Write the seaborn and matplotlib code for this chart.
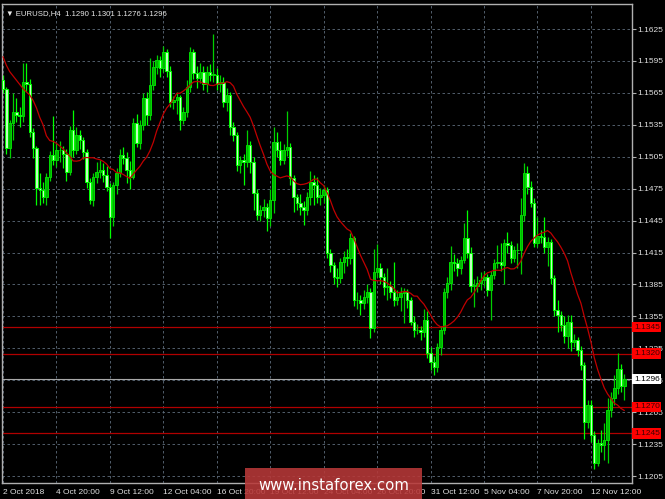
import numpy as np
import pandas as pd
import matplotlib
matplotlib.use('Agg')
from matplotlib import pyplot as plt
from matplotlib.patches import Rectangle
from matplotlib.transforms import blended_transform_factory
import seaborn as sns


# EURUSD H4, 2 Oct 2018 .. 13 Nov 2018
first_open = 1.1577
closes = [1.1569, 1.1513, 1.1537, 1.1547, 1.1544, 1.1543, 1.1575, 1.1573, 1.1528, 1.1513,
          1.1476, 1.1474, 1.1467, 1.1486, 1.1507, 1.1502, 1.1511, 1.1511, 1.1508, 1.1491,
          1.1530, 1.1511, 1.1525, 1.1521, 1.1509, 1.1481, 1.1464, 1.1486, 1.1491, 1.1493,
          1.1488, 1.1477, 1.1448, 1.1478, 1.1490, 1.1507, 1.1504, 1.1493, 1.1486, 1.1537,
          1.1518, 1.1535, 1.1560, 1.1544, 1.1572, 1.1589, 1.1596, 1.1588, 1.1603, 1.1586,
          1.1556, 1.1558, 1.1561, 1.1540, 1.1547, 1.1571, 1.1603, 1.1584, 1.1579, 1.1585,
          1.1573, 1.1585, 1.1582, 1.1582, 1.1573, 1.1575, 1.1556, 1.1563, 1.1533, 1.1525,
          1.1497, 1.1502, 1.1500, 1.1516, 1.1500, 1.1471, 1.1450, 1.1455, 1.1458, 1.1447,
          1.1464, 1.1519, 1.1511, 1.1502, 1.1511, 1.1514, 1.1485, 1.1467, 1.1462, 1.1458,
          1.1455, 1.1467, 1.1481, 1.1478, 1.1467, 1.1469, 1.1474, 1.1415, 1.1403, 1.1392,
          1.1391, 1.1406, 1.1411, 1.1410, 1.1429, 1.1370, 1.1370, 1.1368, 1.1373, 1.1378,
          1.1344, 1.1397, 1.1400, 1.1392, 1.1383, 1.1384, 1.1378, 1.1370, 1.1373, 1.1377,
          1.1378, 1.1370, 1.1350, 1.1342, 1.1342, 1.1340, 1.1352, 1.1321, 1.1312, 1.1307,
          1.1326, 1.1342, 1.1378, 1.1386, 1.1406, 1.1405, 1.1400, 1.1408, 1.1429, 1.1415,
          1.1384, 1.1384, 1.1386, 1.1389, 1.1392, 1.1380, 1.1394, 1.1405, 1.1406, 1.1403,
          1.1424, 1.1422, 1.1410, 1.1417, 1.1417, 1.1450, 1.1490, 1.1477, 1.1462, 1.1424,
          1.1431, 1.1430, 1.1420, 1.1425, 1.1391, 1.1361, 1.1356, 1.1347, 1.1337, 1.1350,
          1.1331, 1.1333, 1.1323, 1.1309, 1.1256, 1.1272, 1.1244, 1.1217, 1.1236, 1.1234,
          1.1239, 1.1267, 1.1278, 1.1288, 1.1306, 1.1290, 1.1296]
highs = [1.1582, 1.1571, 1.1540, 1.1565, 1.1560, 1.1552, 1.1593, 1.1593, 1.1578, 1.1532,
         1.1515, 1.1490, 1.1481, 1.1490, 1.1510, 1.1543, 1.1518, 1.1520, 1.1515, 1.1512,
         1.1534, 1.1549, 1.1533, 1.1530, 1.1524, 1.1512, 1.1485, 1.1490, 1.1500, 1.1502,
         1.1499, 1.1496, 1.1480, 1.1481, 1.1494, 1.1512, 1.1514, 1.1509, 1.1501, 1.1541,
         1.1545, 1.1540, 1.1565, 1.1566, 1.1598, 1.1595, 1.1601, 1.1600, 1.1609, 1.1606,
         1.1590, 1.1562, 1.1566, 1.1563, 1.1552, 1.1577, 1.1608, 1.1606, 1.1590, 1.1593,
         1.1590, 1.1590, 1.1592, 1.1620, 1.1588, 1.1582, 1.1580, 1.1570, 1.1566, 1.1538,
         1.1528, 1.1506, 1.1508, 1.1530, 1.1520, 1.1505, 1.1475, 1.1460, 1.1465, 1.1462,
         1.1475, 1.1533, 1.1528, 1.1520, 1.1517, 1.1548, 1.1518, 1.1488, 1.1470, 1.1470,
         1.1463, 1.1472, 1.1492, 1.1488, 1.1486, 1.1476, 1.1478, 1.1477, 1.1418, 1.1406,
         1.1400, 1.1410, 1.1416, 1.1418, 1.1433, 1.1431, 1.1378, 1.1375, 1.1380, 1.1385,
         1.1382, 1.1418, 1.1423, 1.1405, 1.1396, 1.1400, 1.1388, 1.1406, 1.1380, 1.1383,
         1.1382, 1.1381, 1.1373, 1.1355, 1.1348, 1.1346, 1.1362, 1.1360, 1.1326, 1.1318,
         1.1330, 1.1346, 1.1382, 1.1392, 1.1421, 1.1414, 1.1410, 1.1412, 1.1443, 1.1455,
         1.1420, 1.1390, 1.1393, 1.1397, 1.1398, 1.1395, 1.1398, 1.1409, 1.1422, 1.1424,
         1.1428, 1.1434, 1.1426, 1.1421, 1.1424, 1.1466, 1.1499, 1.1496, 1.1482, 1.1466,
         1.1448, 1.1436, 1.1448, 1.1430, 1.1428, 1.1394, 1.1370, 1.1360, 1.1355, 1.1356,
         1.1356, 1.1338, 1.1336, 1.1327, 1.1312, 1.1276, 1.1276, 1.1247, 1.1240, 1.1248,
         1.1255, 1.1278, 1.1284, 1.1300, 1.1321, 1.1310, 1.1301]
lows = [1.1565, 1.1508, 1.1504, 1.1521, 1.1538, 1.1533, 1.1538, 1.1566, 1.1524, 1.1504,
        1.1460, 1.1460, 1.1462, 1.1460, 1.1482, 1.1497, 1.1495, 1.1500, 1.1494, 1.1482,
        1.1488, 1.1505, 1.1508, 1.1512, 1.1503, 1.1476, 1.1461, 1.1459, 1.1480, 1.1485,
        1.1481, 1.1473, 1.1429, 1.1440, 1.1470, 1.1486, 1.1498, 1.1480, 1.1475, 1.1484,
        1.1514, 1.1512, 1.1530, 1.1535, 1.1540, 1.1568, 1.1583, 1.1580, 1.1585, 1.1580,
        1.1552, 1.1550, 1.1545, 1.1530, 1.1536, 1.1542, 1.1566, 1.1578, 1.1570, 1.1574,
        1.1568, 1.1566, 1.1576, 1.1575, 1.1568, 1.1566, 1.1552, 1.1548, 1.1525, 1.1520,
        1.1492, 1.1490, 1.1478, 1.1495, 1.1490, 1.1455, 1.1446, 1.1445, 1.1448, 1.1435,
        1.1440, 1.1452, 1.1505, 1.1497, 1.1498, 1.1506, 1.1478, 1.1453, 1.1455, 1.1450,
        1.1441, 1.1450, 1.1460, 1.1460, 1.1462, 1.1460, 1.1462, 1.1410, 1.1397, 1.1385,
        1.1383, 1.1386, 1.1396, 1.1402, 1.1404, 1.1365, 1.1362, 1.1356, 1.1362, 1.1368,
        1.1335, 1.1340, 1.1392, 1.1385, 1.1375, 1.1370, 1.1372, 1.1365, 1.1366, 1.1360,
        1.1349, 1.1363, 1.1347, 1.1336, 1.1338, 1.1333, 1.1336, 1.1316, 1.1305, 1.1300,
        1.1303, 1.1319, 1.1338, 1.1372, 1.1380, 1.1398, 1.1393, 1.1395, 1.1405, 1.1410,
        1.1378, 1.1364, 1.1378, 1.1380, 1.1384, 1.1374, 1.1352, 1.1390, 1.1400, 1.1398,
        1.1385, 1.1415, 1.1405, 1.1406, 1.1400, 1.1395, 1.1445, 1.1470, 1.1458, 1.1420,
        1.1420, 1.1424, 1.1415, 1.1402, 1.1385, 1.1355, 1.1340, 1.1341, 1.1330, 1.1325,
        1.1322, 1.1326, 1.1318, 1.1305, 1.1240, 1.1250, 1.1237, 1.1212, 1.1214, 1.1228,
        1.1220, 1.1217, 1.1260, 1.1272, 1.1282, 1.1284, 1.1276]

# moving average before its 14-bar window fills
ma_head = [1.1599, 1.1591, 1.1585, 1.1581, 1.1577, 1.1573, 1.1569, 1.1566, 1.1563,
           1.1558, 1.1551, 1.1542, 1.1535]
ma_period = 14

date_labels = ['2 Oct 2018', '4 Oct 20:00', '9 Oct 12:00', '12 Oct 04:00', '16 Oct 20:00',
               '19 Oct 12:00', '24 Oct 04:00', '26 Oct 20:00', '31 Oct 12:00', '5 Nov 04:00',
               '7 Nov 20:00', '12 Nov 12:00']
label_step = 16
price_ticks = [1.1205, 1.1235, 1.1265, 1.1295, 1.1325, 1.1355, 1.1385, 1.1415,
               1.1445, 1.1475, 1.1505, 1.1535, 1.1565, 1.1595, 1.1625]
levels = [1.1345, 1.1320, 1.1270, 1.1245]
title = '\u25bc EURUSD,H4  1.1290 1.1301 1.1276 1.1296'


df = pd.DataFrame({'close': closes, 'high': highs, 'low': lows})
df['open'] = [first_open] + closes[:-1]
df['bar'] = np.arange(len(df))
ma = df['close'].rolling(ma_period).mean()
ma.iloc[:len(ma_head)] = ma_head
df['ma'] = ma
up = df['close'] >= df['open']

sns.set_style('dark', {'axes.facecolor': 'black', 'figure.facecolor': 'black'})
plt.rcParams['font.family'] = ['Liberation Sans', 'DejaVu Sans']

fig = plt.figure(figsize=(6.65, 4.99), dpi=100)
ax = fig.add_axes([0.003, 0.032, 0.9474, 0.9599])
ax.set_facecolor('black')

# candles
wick_col = np.where(up, '#00d000', '#00ff00')
ax.vlines(df['bar'], df['low'], df['high'], colors=wick_col, linewidth=0.9, zorder=2)
body_h = np.maximum((df['close'] - df['open']).abs(), 0.00004)
body_b = np.minimum(df['open'], df['close'])
ax.bar(df['bar'], body_h, bottom=body_b, width=0.72,
       color=np.where(up, '#00b400', '#c0ffc0'),
       edgecolor=np.where(up, '#00dc00', '#00ff00'), linewidth=0.7, zorder=3)

sns.lineplot(data=df, x='bar', y='ma', color='#c00000', linewidth=0.9, ax=ax, zorder=4)

for lv in levels:
    ax.axhline(lv, color='#b00000', linewidth=0.9, zorder=1.5)
last = closes[-1]
ax.axhline(last, color='#a8a8a8', linewidth=0.8, zorder=1.5)

ax.set_xlim(-0.3, 188.3)
ax.set_ylim(1.11984, 1.16485)
ax.set_xticks(np.arange(len(date_labels)) * label_step)
ax.set_xticklabels(date_labels, ha='left')
ax.set_yticks(price_ticks)
ax.set_yticklabels([f'{p:.4f}' for p in price_ticks])
ax.yaxis.tick_right()
ax.set_xlabel('')
ax.set_ylabel('')
ax.tick_params(axis='both', colors='#b0b0b0', labelcolor='#e0e0e0', labelsize=6,
               length=3, width=0.8)
ax.tick_params(axis='x', pad=1.5)
ax.tick_params(axis='y', pad=1)
ax.grid(True, color='#5e6c7c', linestyle=(0, (3, 3)), linewidth=0.6)
for s in ax.spines.values():
    s.set_color('#b0b0b0')
    s.set_linewidth(1)

ax.text(0.006, 0.988, title, transform=ax.transAxes, ha='left', va='top',
        fontsize=5.6, color='#e8e8e8')

trans = blended_transform_factory(ax.transAxes, ax.transData)
for lv in levels:
    ax.text(1.003, lv, f'{lv:.4f}', transform=trans, ha='left', va='center',
            fontsize=6, color='#400000', clip_on=False, zorder=6,
            bbox=dict(boxstyle='square,pad=0.2', fc='#ff0000', ec='none'))
ax.text(1.003, last, f'{last:.4f}', transform=trans, ha='left', va='center',
        fontsize=6, color='black', clip_on=False, zorder=6,
        bbox=dict(boxstyle='square,pad=0.2', fc='white', ec='none'))

# watermark
fig.patches.append(Rectangle((0.3684, 0), 0.2662, 0.062, transform=fig.transFigure,
                             facecolor='#b83838', edgecolor='none', alpha=0.88, zorder=10))
fig.text(0.5015, 0.028, 'www.instaforex.com', ha='center', va='center',
         fontsize=10.7, color='white', family='DejaVu Sans', zorder=11)

fig.savefig('out.png', dpi=100, facecolor='black')
